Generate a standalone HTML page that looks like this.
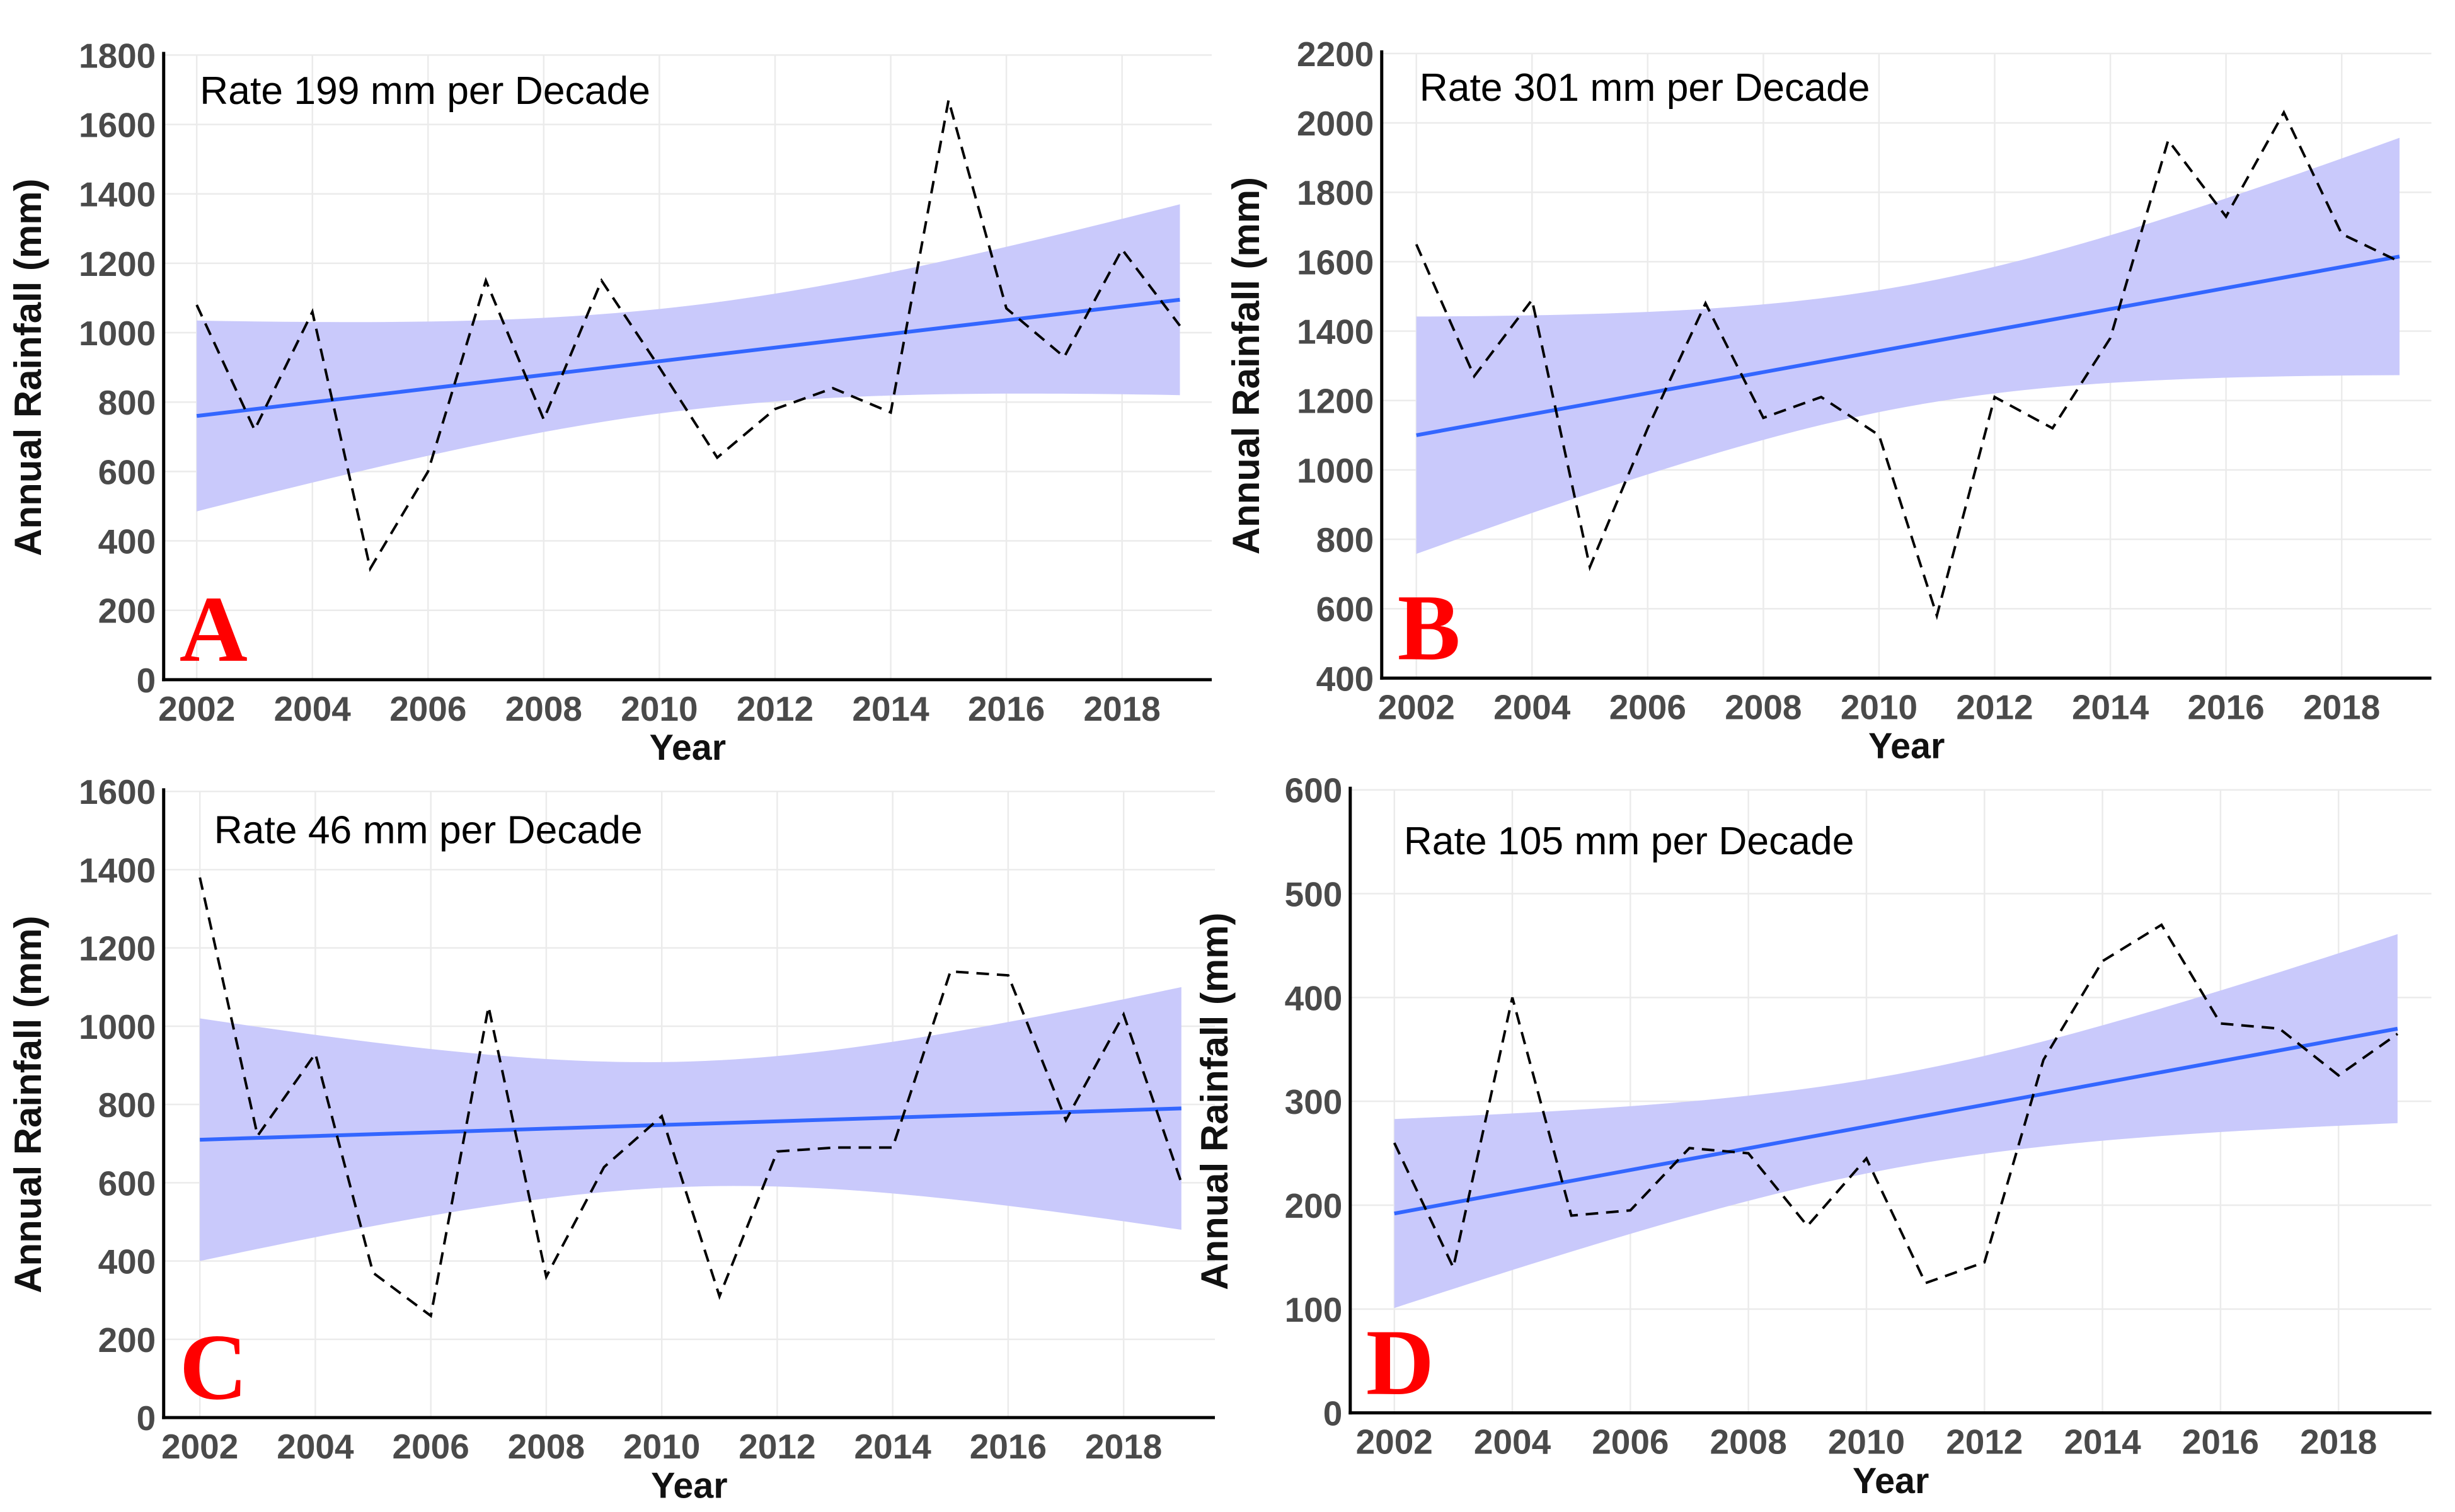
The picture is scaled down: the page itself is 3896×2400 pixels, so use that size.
<!DOCTYPE html>
<html><head><meta charset="utf-8"><style>
html,body{margin:0;padding:0;background:#fff;}
svg{display:block;}
</style></head><body>
<svg id="fig" xmlns="http://www.w3.org/2000/svg" width="3896" height="2400" viewBox="0 0 1560 961" preserveAspectRatio="none"></svg>
<script>
const years = [2002,2003,2004,2005,2006,2007,2008,2009,2010,2011,2012,2013,2014,2015,2016,2017,2018,2019];
const xTicks = [2002,2004,2006,2008,2010,2012,2014,2016,2018];

const rainA = [1080,720,1060,320,600,1150,750,1150,900,640,780,840,770,1670,1070,930,1240,1020];
const trendA = [760,1095];
const bandA = [150,275];
const yTicksA = [0,200,400,600,800,1000,1200,1400,1600,1800];

const rainB = [1650,1270,1490,720,1120,1480,1150,1210,1100,580,1210,1120,1380,1950,1730,2030,1680,1600];
const trendB = [1100,1615];
const bandB = [175,342];
const yTicksB = [400,600,800,1000,1200,1400,1600,1800,2000,2200];

const rainC = [1380,720,930,370,260,1050,360,640,770,310,680,690,690,1140,1130,760,1030,600];
const trendC = [710,790];
const bandC = [160,310];
const yTicksC = [0,200,400,600,800,1000,1200,1400,1600];

const rainD = [260,140,400,190,195,255,250,180,245,125,145,340,435,470,375,370,325,365];
const trendD = [192,370];
const bandD = [45,91];
const yTicksD = [0,100,200,300,400,500,600];

const NS = 'http://www.w3.org/2000/svg';
const svg = document.getElementById('fig');
function mk(tag, attrs, parent){
  const e = document.createElementNS(NS, tag);
  for (const k in attrs) e.setAttribute(k, attrs[k]);
  (parent||svg).appendChild(e);
  return e;
}

function panel(id, letter, rate, rain, trend, band, yTicks, L){
  const g = mk('g', {});
  
  
  const yMin = yTicks[0], yMax = yTicks[yTicks.length-1];
  const sx = v => L.x2002 + (v-2002)*(L.x2018-L.x2002)/16;
  const sy = v => L.yBot - (v-yMin)*(L.yBot-L.yTop)/(yMax-yMin);
  yTicks.forEach(t=>{
    const l = mk('line',{x1:L.ax,x2:L.right,y1:sy(t),y2:sy(t),stroke:'#ebebeb','stroke-width':1},g);
    
    
  });
  xTicks.forEach(t=>{
    const l = mk('line',{x1:sx(t),x2:sx(t),y1:L.yTop,y2:L.yBot,stroke:'#ebebeb','stroke-width':1},g);
    
    
  });
  const xm = (years[0]+years[years.length-1])/2, half = (years[years.length-1]-years[0])/2;
  const fit = x => trend[0] + (trend[1]-trend[0])*(x-years[0])/(years[years.length-1]-years[0]);
  const hw = x => Math.sqrt(band[0]*band[0] + (band[1]*band[1]-band[0]*band[0])*Math.pow((x-xm)/half,2));
  let up=[], lo=[];
  for (let i=0;i<=68;i++){
    const x = years[0] + i*(years[years.length-1]-years[0])/68;
    up.push(sx(x).toFixed(2)+','+sy(fit(x)+hw(x)).toFixed(2));
    lo.unshift(sx(x).toFixed(2)+','+sy(fit(x)-hw(x)).toFixed(2));
  }
  const b = mk('polygon',{points:up.concat(lo).join(' '),fill:'#c9c9fb'},g);
  
  
  const tl = mk('line',{x1:sx(years[0]),y1:sy(trend[0]),x2:sx(years[years.length-1]),y2:sy(trend[1]),stroke:'#3366ff','stroke-width':2.4},g);
  
  
  const pts = rain.map((v,i)=>sx(years[i]).toFixed(2)+','+sy(v).toFixed(2)).join(' ');
  const rl = mk('polyline',{points:pts,fill:'none',stroke:'#000','stroke-width':1.6,'stroke-dasharray':'8,5'},g);
  
  
  const ya = mk('line',{x1:L.ax,x2:L.ax,y1:L.yTop-2,y2:L.yBot+1,stroke:'#000','stroke-width':2},g);
  
  
  const xa = mk('line',{x1:L.ax-1,x2:L.right,y1:L.yBot,y2:L.yBot,stroke:'#000','stroke-width':2},g);
  
  
  yTicks.forEach(t=>{
    const tx = mk('text',{x:L.ax-5,y:sy(t)+8,'text-anchor':'end','font-family':'Liberation Sans, sans-serif','font-weight':'bold','font-size':22,fill:'#4a4a4a'},g);
    tx.textContent = t;
    
    
  });
  xTicks.forEach(t=>{
    const tx = mk('text',{x:sx(t),y:L.yBot+26,'text-anchor':'middle','font-family':'Liberation Sans, sans-serif','font-weight':'bold','font-size':22,fill:'#4a4a4a'},g);
    tx.textContent = t;
    
    
  });
  const xt = mk('text',{x:(L.ax+L.right)/2,y:L.yBot+51,'text-anchor':'middle','font-family':'Liberation Sans, sans-serif','font-weight':'bold','font-size':23,fill:'#111'},g);
  xt.textContent = 'Year';
  
  
  const cy = (L.yTop+L.yBot)/2;
  const yt = mk('text',{x:0,y:0,transform:'translate('+(L.ax-78)+','+cy+') rotate(-90)','text-anchor':'middle','font-family':'Liberation Sans, sans-serif','font-weight':'bold','font-size':24,fill:'#111'},g);
  yt.textContent = 'Annual Rainfall (mm)';
  
  
  const an = mk('text',{x:L.annX,y:L.annY,'font-family':'Liberation Sans, sans-serif','font-size':25,fill:'#000'},g);
  an.textContent = 'Rate ' + rate + ' mm per Decade';
  
  
  const lt = mk('text',{x:L.ax+10,y:L.yBot-12,'font-family':'Liberation Serif, serif','font-weight':'bold','font-size':60,fill:'#ff0000'},g);
  lt.textContent = letter;
  
  
}

panel('a','A',199,rainA,trendA,bandA,yTicksA,{ax:104,right:770,yTop:35,yBot:432,x2002:125,x2018:713,annX:127,annY:66});
panel('b','B',301,rainB,trendB,bandB,yTicksB,{ax:878,right:1545,yTop:34,yBot:431,x2002:900,x2018:1488,annX:902,annY:64});
panel('c','C',46,rainC,trendC,bandC,yTicksC,{ax:104,right:772,yTop:503,yBot:901,x2002:127,x2018:714,annX:136,annY:536});
panel('d','D',105,rainD,trendD,bandD,yTicksD,{ax:858,right:1545,yTop:502,yBot:898,x2002:886,x2018:1486,annX:892,annY:543});
</script>
</body></html>
